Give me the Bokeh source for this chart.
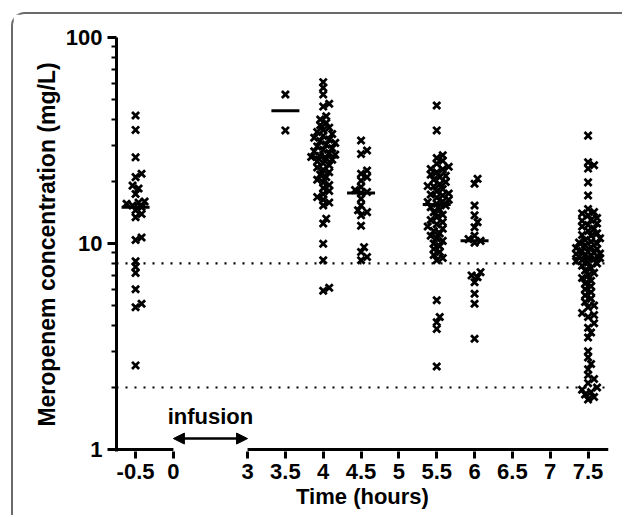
import numpy as np
from bokeh.plotting import figure
from bokeh.models import (Range1d, FixedTicker, Span, Arrow, NormalHead,
                          PrintfTickFormatter)
from bokeh.core.properties import value
from bokeh.embed import file_html
from bokeh.resources import INLINE

# ---------------- data (mg/L) ----------------
group_times = [-0.5, 3.5, 4, 4.5, 5.5, 6, 7.5]

conc_m05 = [41.8, 35.6, 26.2, 21.8, 21.0, 19.1, 18.5, 17.4, 16.0, 15.8, 15.6, 15.3,
            15.0, 14.5, 13.9, 13.4, 10.7, 10.4, 8.2, 7.7, 7.2, 6.0, 5.1, 4.9, 2.56]
conc_35 = [52.9, 35.4]
conc_4 = [60.7, 57.0, 52.9, 47.7, 46.2, 41.5, 40.0, 38.5, 37.5, 36.5, 35.5, 34.8,
          34.0, 33.3, 32.6, 32.0, 31.4, 30.8, 30.2, 29.6, 29.0, 28.5, 28.0, 27.5,
          27.0, 26.6, 26.3, 25.9, 25.5, 25.0, 24.5, 24.0, 23.4, 22.8, 22.2, 21.6,
          21.0, 20.4, 19.8, 19.2, 18.6, 18.0, 17.4, 16.8, 16.3, 15.8, 15.3, 13.2,
          12.5, 9.97, 8.3, 6.1, 5.9]
conc_45 = [31.6, 28.3, 27.2, 22.6, 21.8, 21.0, 20.2, 18.8, 18.2, 17.8, 17.6, 16.5,
           15.3, 14.5, 14.2, 13.7, 12.2, 9.6, 9.1, 8.6, 8.3]
conc_55 = [46.8, 35.4, 26.8, 26.0, 25.2, 24.4, 23.6, 23.0, 22.9, 22.2, 21.6, 21.3,
           21.0, 20.4, 19.9, 19.4, 19.0, 18.9, 18.4, 17.9, 17.5, 17.3, 17.1, 16.7,
           16.3, 16.0, 15.9, 15.6, 15.3, 15.0, 14.6, 14.2, 13.8, 13.4, 13.0, 12.7,
           12.4, 12.1, 11.8, 11.5, 11.2, 10.9, 10.6, 10.3, 10.0, 9.7, 9.4, 9.1, 8.8,
           8.5, 8.3, 5.3, 4.4, 4.15, 3.85, 2.53]
conc_6 = [20.6, 19.5, 15.3, 13.7, 12.7, 12.0, 10.9, 10.5, 10.3, 10.1, 7.26, 7.0,
          6.86, 6.49, 5.7, 5.1, 3.45]
conc_75 = [33.4, 24.8, 24.0, 23.1, 19.8, 17.1,
           14.7, 14.2, 14.0, 13.7, 13.3, 13.0, 12.9, 12.5, 12.3, 12.1, 11.8, 11.5,
           11.2, 11.0, 10.9, 10.6, 10.4, 10.2, 10.1, 10.0, 9.8, 9.6, 9.5, 9.4, 9.2,
           9.1, 9.0, 8.95, 8.9, 8.8, 8.75, 8.7, 8.6, 8.55, 8.5,
           8.4, 8.3, 8.2, 8.1, 8.0, 7.8, 7.6, 7.4, 7.2, 7.0, 6.8, 6.6, 6.4, 6.2,
           6.0, 5.8, 5.6, 5.4, 5.2, 5.0, 4.9, 4.6, 4.5, 4.4, 4.1, 3.9, 3.7, 3.5,
           3.0, 2.8, 2.6, 2.45, 2.3, 2.2, 2.1, 2.0, 1.95, 1.9, 1.85, 1.8, 1.75]
group_values = [conc_m05, conc_35, conc_4, conc_45, conc_55, conc_6, conc_75]

x_tick_hours = [-0.5, 0, 3, 3.5, 4, 4.5, 5, 5.5, 6, 6.5, 7, 7.5]
x_tick_labels = ["-0.5", "0", "3", "3.5", "4", "4.5", "5", "5.5", "6", "6.5", "7", "7.5"]
y_major_ticks = [1, 10, 100]
y_minor_ticks = [2, 3, 4, 5, 6, 7, 8, 9, 20, 30, 40, 50, 60, 70, 80, 90]
reference_levels = [8, 2]          # dotted horizontal lines
infusion_hours = [0, 3]
infusion_label = "infusion"
arrow_level = 1.13
label_level = 1.45

# ---------------- broken time axis ----------------
BREAK_LO, BREAK_HI, BREAK_WIDTH = 0.0, 3.0, 0.98


def u(t):
    return round(t if t <= BREAK_LO else t - (BREAK_HI - BREAK_LO) + BREAK_WIDTH, 4)


X_START, X_END = -0.752, 5.75
Y_START, Y_END = 0.978, 100

FRAME_W, FRAME_H = 492, 414
PX_U = FRAME_W / (X_END - X_START)
PX_DEC = FRAME_H / np.log10(Y_END / Y_START)


def swarm(vals, min_d=5.5, step=3.0, maxk=4):
    vals = np.asarray(vals, float)
    placed = []
    offs = np.zeros(len(vals))
    for i in np.argsort(vals):
        y = np.log10(vals[i]) * PX_DEC
        best, bestd = 0.0, -1.0
        for k in range(0, 2 * maxk + 1):
            o = ((k + 1) // 2) * step * (1 if k % 2 else -1)
            d = min([np.hypot(o - px, y - py) for px, py in placed] or [1e9])
            if d >= min_d:
                best = o
                break
            if d > bestd:
                bestd, best = d, o
        placed.append((best, y))
        offs[i] = best
    return offs / PX_U


xs, ys = [], []
med_x, med_y = [], []
for t, vals in zip(group_times, group_values):
    offs = swarm(vals)
    xs.extend(list(u(t) + offs))
    ys.extend(vals)
    med_x.append(u(t))
    med_y.append(float(np.median(vals)))

FONT = "Liberation Sans"

p = figure(width=611, height=503,
           x_range=Range1d(X_START, X_END), y_range=Range1d(Y_START, Y_END),
           y_axis_type="log", output_backend="svg", toolbar_location=None,
           min_border_left=103, min_border_right=16, min_border_top=23,
           min_border_bottom=66)
p.outline_line_color = None
p.xgrid.visible = False
p.ygrid.visible = False
p.background_fill_color = "white"
p.border_fill_color = "white"

# outer rounded frame of the figure panel (open to the right / bottom)
p.styles = {"border-top": "2px solid #6a6a6a", "border-left": "2px solid #6a6a6a",
            "border-top-left-radius": "14px", "margin-left": "11px",
            "margin-top": "12px"}

# x axis
xa = p.xaxis[0]
xt = [u(t) for t in x_tick_hours]
xa.ticker = FixedTicker(ticks=xt, minor_ticks=[])
xa.major_label_overrides = {k: lab for k, lab in zip(xt, x_tick_labels)}
xa.axis_line_color = None
xa.major_tick_line_width = 3
xa.major_tick_out = 7
xa.major_tick_in = 0
xa.minor_tick_out = 0
xa.major_label_standoff = 5
xa.major_label_text_font = FONT
xa.major_label_text_font_style = "bold"
xa.major_label_text_font_size = "22px"
xa.major_label_text_color = "black"
xa.axis_label = "Time (hours)"
xa.axis_label_text_font = FONT
xa.axis_label_text_font_style = "bold"
xa.axis_label_text_font_size = "22px"
xa.axis_label_text_color = "black"
xa.axis_label_standoff = 2

# broken x axis line
p.segment(x0=[X_START, u(infusion_hours[1])], y0=[1, 1],
          x1=[u(infusion_hours[0]), X_END], y1=[1, 1],
          line_color="black", line_width=3)

# y axis
ya = p.yaxis[0]
ya.ticker = FixedTicker(ticks=y_major_ticks, minor_ticks=y_minor_ticks)
ya.formatter = PrintfTickFormatter(format="%d")
ya.axis_line_width = 3
ya.major_tick_line_width = 3
ya.major_tick_out = 9
ya.major_tick_in = 0
ya.minor_tick_line_width = 2
ya.minor_tick_out = 5
ya.minor_tick_in = 0
ya.major_label_standoff = 5
ya.major_label_text_font = FONT
ya.major_label_text_font_style = "bold"
ya.major_label_text_font_size = "22px"
ya.major_label_text_color = "black"
ya.axis_label = "Meropenem concentration (mg/L)"
ya.axis_label_text_font = FONT
ya.axis_label_text_font_style = "bold"
ya.axis_label_text_font_size = "23px"
ya.axis_label_text_color = "black"
ya.axis_label_standoff = 3

# dotted reference lines
for lvl in reference_levels:
    p.add_layout(Span(location=lvl, dimension="width", line_color="black",
                      line_width=2.2, line_dash="2 7"))

# data points
p.scatter(xs, ys, marker="x", size=10, line_color="black", line_width=2.8)
# medians
p.scatter(med_x, med_y, marker="dash", size=28, line_color="black", line_width=3)

# infusion arrow + label
p.add_layout(Arrow(x_start=u(infusion_hours[0]), x_end=u(infusion_hours[1]),
                   y_start=arrow_level, y_end=arrow_level, line_width=2.5,
                   start=NormalHead(size=11, fill_color="black", line_color="black"),
                   end=NormalHead(size=11, fill_color="black", line_color="black")))
p.text(x=[(u(infusion_hours[0]) + u(infusion_hours[1])) / 2], y=[label_level],
       text=[infusion_label], text_font=value(FONT), text_font_style="bold",
       text_font_size="22px", text_align="center", text_baseline="middle",
       text_color="black")

open("out.html", "w").write(file_html(p, INLINE))
